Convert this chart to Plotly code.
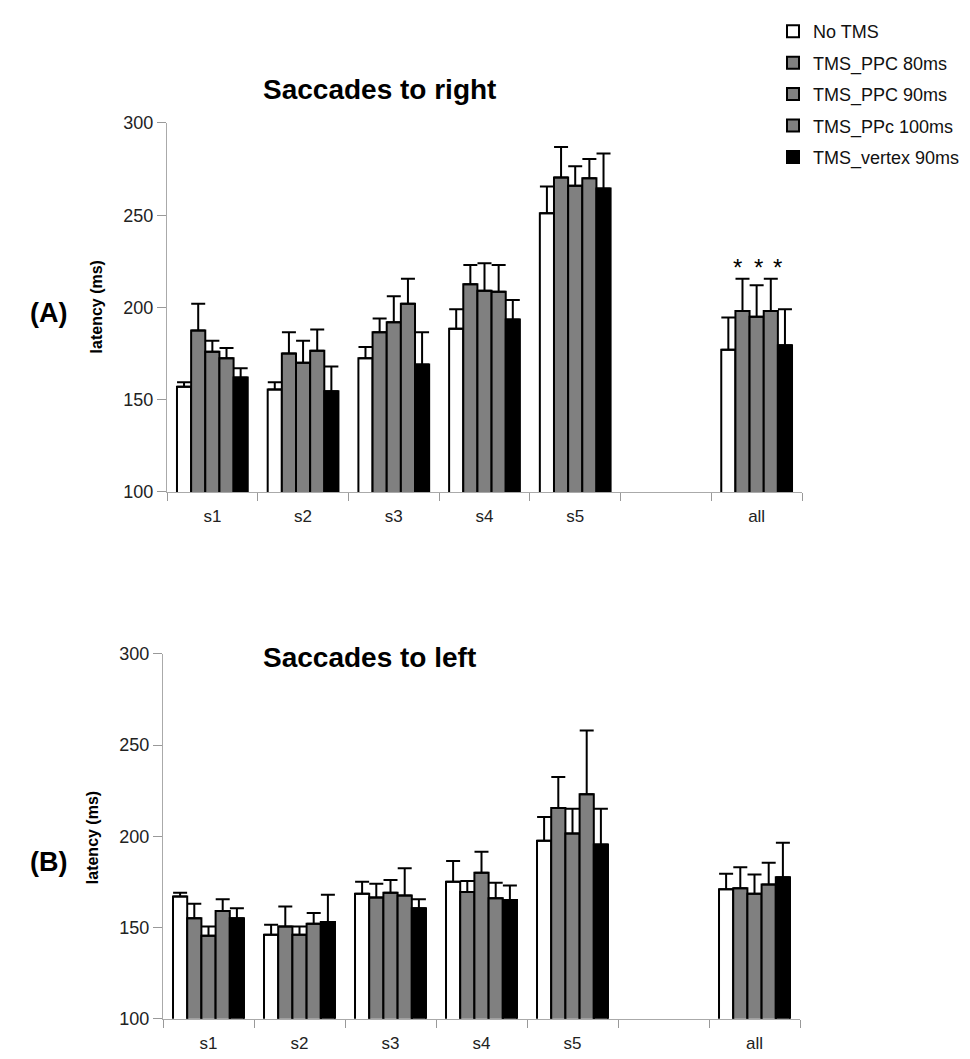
import plotly.graph_objects as go

# ---- data ----
categories = ["s1", "s2", "s3", "s4", "s5", " ", "all"]
series_names = ["No TMS", "TMS_PPC 80ms", "TMS_PPC 90ms", "TMS_PPc 100ms", "TMS_vertex 90ms"]

# Saccades to right (panel A): means and upper error (SD)
no_tms_r = [157, 155.5, 172.5, 188.5, 251, None, 177]
no_tms_r_err = [2.5, 4, 6, 10.5, 14.5, None, 17.5]
ppc80_r = [187.5, 175, 186.5, 212.5, 270.5, None, 198]
ppc80_r_err = [14.5, 11.5, 7.5, 10.5, 16.5, None, 17.5]
ppc90_r = [176, 170, 192, 209, 266, None, 195]
ppc90_r_err = [6, 12, 14, 15, 10.5, None, 17]
ppc100_r = [172.5, 176.5, 202, 208.5, 270, None, 198]
ppc100_r_err = [5.5, 11.5, 13.5, 14.5, 10.5, None, 17.5]
vertex_r = [162, 154.5, 169, 193.5, 264.5, None, 179.5]
vertex_r_err = [5, 13.5, 17.5, 10.5, 19, None, 19.5]

# Saccades to left (panel B)
no_tms_l = [167, 146, 168.5, 175, 197.5, None, 171]
no_tms_l_err = [2, 5.5, 6.5, 11.5, 13, None, 8.5]
ppc80_l = [155, 150.5, 166.5, 169.5, 215.5, None, 171.5]
ppc80_l_err = [8, 11, 7.5, 6, 17, None, 11.5]
ppc90_l = [145.5, 146, 169, 180, 201.5, None, 168.5]
ppc90_l_err = [5, 4.5, 7, 11.5, 13.5, None, 10.5]
ppc100_l = [159, 152, 167.5, 166, 223, None, 173.5]
ppc100_l_err = [6.5, 6, 15, 8.5, 35, None, 12]
vertex_l = [155, 153, 160.5, 165, 195.5, None, 177.5]
vertex_l_err = [5.5, 15, 5, 8, 19.5, None, 19]

y_ticks = [100, 150, 200, 250, 300]

# ---- styling ----
FONT = "Arial, Liberation Sans, sans-serif"
fills = ["#ffffff", "#808080", "#808080", "#808080", "#000000"]
W, H = 970, 1059

right = [(no_tms_r, no_tms_r_err), (ppc80_r, ppc80_r_err), (ppc90_r, ppc90_r_err),
         (ppc100_r, ppc100_r_err), (vertex_r, vertex_r_err)]
left = [(no_tms_l, no_tms_l_err), (ppc80_l, ppc80_l_err), (ppc90_l, ppc90_l_err),
        (ppc100_l, ppc100_l_err), (vertex_l, vertex_l_err)]

fig = go.Figure()


def add_panel(data, xa, ya, show):
    for i, (vals, errs) in enumerate(data):
        fig.add_trace(go.Bar(
            x=categories, y=vals, name=series_names[i],
            legendgroup=f"g{i}", showlegend=show,
            marker=dict(color=fills[i], line=dict(color="black", width=2)),
            error_y=dict(type="data", symmetric=False, array=errs,
                         arrayminus=[0 if e is not None else None for e in errs],
                         color="black", thickness=2, width=7),
            xaxis=xa, yaxis=ya,
        ))


add_panel(right, "x", "y", True)
add_panel(left, "x2", "y2", False)

xaxis_common = dict(
    type="category", categoryorder="array", categoryarray=categories,
    tickson="boundaries", ticks="outside", ticklen=8, tickcolor="#999999",
    showline=True, linecolor="#aaaaaa", linewidth=1, showgrid=False,
    tickfont=dict(family=FONT, size=17, color="#222222"), zeroline=False,
    ticklabelstandoff=9,
)
yaxis_common = dict(
    range=[100, 300], tickvals=y_ticks, ticks="outside", ticklen=9,
    tickcolor="#999999", showline=True, linecolor="#aaaaaa", linewidth=1,
    showgrid=False, zeroline=False,
    tickfont=dict(family=FONT, size=18, color="#222222"),
)

fig.update_layout(
    width=W, height=H, margin=dict(l=0, r=0, t=0, b=0),
    paper_bgcolor="white", plot_bgcolor="white",
    barmode="group", bargap=0.22, bargroupgap=0,
    xaxis=dict(domain=[159 / W, 794 / W], anchor="y", **xaxis_common),
    yaxis=dict(domain=[1 - 483 / H, 1 - 107 / H], anchor="x", **yaxis_common),
    xaxis2=dict(domain=[155 / W, 792 / W], anchor="y2", **xaxis_common),
    yaxis2=dict(domain=[1 - 1020 / H, 1 - 648 / H], anchor="x2", **yaxis_common),
    legend=dict(x=765 / W, xanchor="left", y=1 + 5 / H, yanchor="top",
                font=dict(family=FONT, size=18, color="#111111"),
                tracegroupgap=5, bgcolor="rgba(0,0,0,0)"),
    font=dict(family=FONT),
)

ann = []
ann.append(dict(text="<b>Saccades to right</b>", xref="paper", yref="paper",
                x=253 / W, y=1 - 73 / H, xanchor="left", yanchor="middle",
                showarrow=False, font=dict(family=FONT, size=28, color="black")))
ann.append(dict(text="<b>Saccades to left</b>", xref="paper", yref="paper",
                x=253 / W, y=1 - 652 / H, xanchor="left", yanchor="middle",
                showarrow=False, font=dict(family=FONT, size=28, color="black")))
ann.append(dict(text="<b>(A)</b>", xref="paper", yref="paper",
                x=40 / W, y=1 - 301 / H, xanchor="center", yanchor="middle",
                showarrow=False, font=dict(family=FONT, size=27, color="black")))
ann.append(dict(text="<b>(B)</b>", xref="paper", yref="paper",
                x=40 / W, y=1 - 860 / H, xanchor="center", yanchor="middle",
                showarrow=False, font=dict(family=FONT, size=27, color="black")))
ann.append(dict(text="<b>latency (ms)</b>", xref="paper", yref="paper",
                x=88 / W, y=1 - 295 / H, xanchor="center", yanchor="middle",
                textangle=-90, showarrow=False,
                font=dict(family=FONT, size=16, color="black")))
ann.append(dict(text="<b>latency (ms)</b>", xref="paper", yref="paper",
                x=84 / W, y=1 - 836 / H, xanchor="center", yanchor="middle",
                textangle=-90, showarrow=False,
                font=dict(family=FONT, size=16, color="black")))

# significance asterisks over the PPC bars in "all" (panel A)
star_y = max(ppc80_r[6] + ppc80_r_err[6], ppc90_r[6] + ppc90_r_err[6],
             ppc100_r[6] + ppc100_r_err[6]) + 6
for dx in [-19.5, 1.5, 20.5]:
    ann.append(dict(text="*", xref="x", yref="y", x="all", y=star_y,
                    xshift=dx, xanchor="center", yanchor="middle", showarrow=False,
                    font=dict(family=FONT, size=24, color="black")))

fig.update_layout(annotations=ann)

fig.write_html("out.html")
